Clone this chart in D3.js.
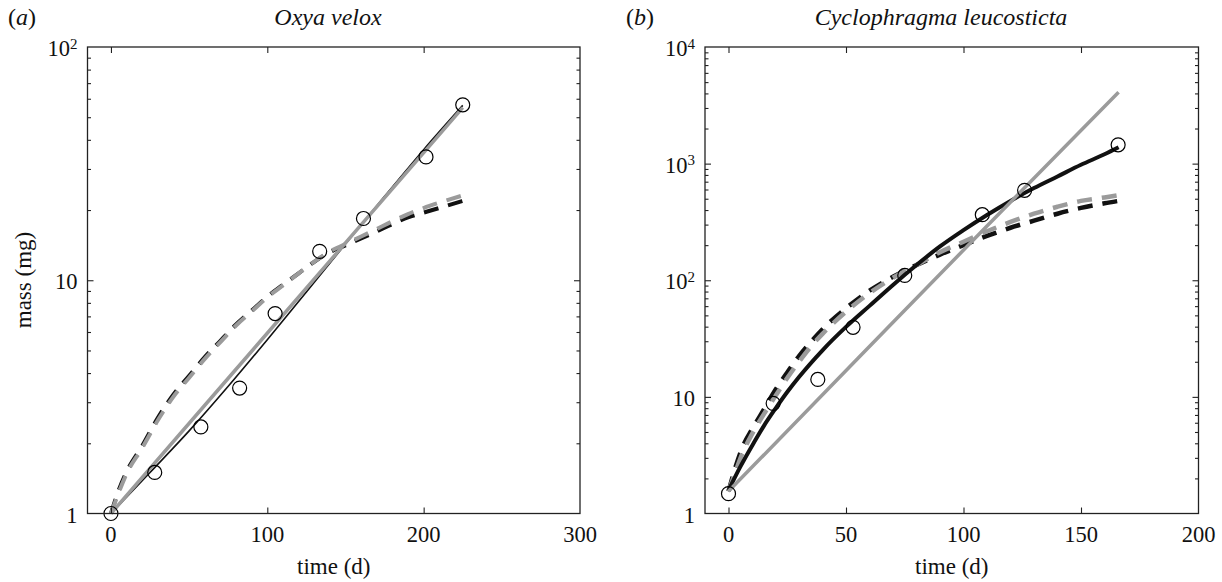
<!DOCTYPE html>
<html>
<head>
<meta charset="utf-8">
<script src="https://cdn.jsdelivr.net/npm/d3@7/dist/d3.min.js"></script>
<style>
  html, body { margin: 0; padding: 0; background: #fff; }
  svg { display: block; }
  svg text { font-family: "Liberation Serif", "Times New Roman", Times, serif; }
</style>
</head>
<body>
<svg id="chart" width="1222" height="582"></svg>
<script>
// ---------- Panel (a): Oxya velox ----------
const aObsTime = [0, 28, 57.5, 82.3, 105, 133.5, 161.5, 201.5, 225];
const aObsMass = [1, 1.5, 2.35, 3.45, 7.2, 13.3, 18.4, 33.8, 56.5];

const aBlackSolidTime = [0, 25, 50, 75, 100, 125, 150, 175, 200, 225];
const aBlackSolidMass = [1, 1.5, 2.26, 3.51, 5.56, 8.91, 14.3, 22.9, 36.3, 56.2];

const aGraySolidTime = [0, 75, 150, 225];
const aGraySolidMass = [1, 3.8, 14.45, 55];

const aDashTime = [0, 5, 10, 20, 30, 40, 50, 60, 70, 80, 90, 100, 110, 120, 130, 140, 150, 160, 170, 180, 190, 200, 210, 225];
const aBlackDashMass = [1, 1.26, 1.51, 1.95, 2.57, 3.24, 3.89, 4.68, 5.5, 6.46, 7.41, 8.51, 9.55, 10.7, 12.0, 13.2, 14.1, 15.1, 16.2, 17.4, 18.6, 19.5, 20.4, 21.9];
const aGrayDashMass = [1, 1.23, 1.48, 1.91, 2.51, 3.17, 3.82, 4.6, 5.43, 6.4, 7.35, 8.45, 9.5, 10.7, 12.0, 13.3, 14.3, 15.4, 16.6, 17.9, 19.2, 20.4, 21.5, 23.1];

const aXTicks = [0, 100, 200, 300];
const aYMajor = [1, 10, 100];
const aYLabels = [["1", ""], ["10", ""], ["10", "2"]];

// ---------- Panel (b): Cyclophragma leucosticta ----------
const bObsTime = [0, 19, 38, 53, 75, 108, 126, 165.8];
const bObsMass = [1.48, 8.8, 14.1, 39.5, 110, 365, 590, 1450];

const bBlackSolidTime = [0, 5, 10, 15, 20, 25, 30, 40, 50, 60, 70, 80, 90, 100, 110, 120, 130, 140, 150, 160, 166];
const bBlackSolidMass = [1.58, 2.51, 3.8, 5.62, 7.94, 11.0, 14.8, 25.1, 39.8, 60.3, 91.2, 135, 195, 269, 363, 479, 617, 776, 977, 1202, 1380];

const bGraySolidTime = [0, 55, 110, 166];
const bGraySolidMass = [1.55, 21.3, 292, 4100];

const bDashTime = [0, 3, 6, 10, 15, 20, 25, 30, 35, 40, 50, 60, 70, 80, 90, 100, 110, 120, 130, 140, 150, 160, 166];
const bBlackDashMass = [1.55, 2.51, 3.72, 5.25, 7.76, 11.5, 16.2, 22.4, 29.5, 38.0, 57.5, 81.3, 107, 135, 166, 200, 240, 282, 324, 372, 417, 457, 479];
const bGrayDashMass = [1.55, 2.29, 3.31, 4.79, 7.08, 10.2, 14.5, 20.0, 26.9, 34.7, 53.7, 77.6, 105, 135, 174, 214, 263, 316, 372, 427, 479, 513, 537];

const bXTicks = [0, 50, 100, 150, 200];
const bYMajor = [1, 10, 100, 1000, 10000];
const bYLabels = [["1", ""], ["10", ""], ["10", "2"], ["10", "3"], ["10", "4"]];

const BLACK = "#111";
const GRAY = "#9b9b9b";
const FONT = "Liberation Serif, Times New Roman, serif";

const svg = d3.select("#chart");

function zip(t, m) { return t.map((v, i) => ({ t: v, m: m[i] })); }

function minorTicks(domain) {
  const out = [];
  const lo = Math.round(Math.log10(domain[0])), hi = Math.round(Math.log10(domain[1]));
  for (let e = lo; e < hi; e++) {
    for (let k = 2; k <= 9; k++) out.push(k * Math.pow(10, e));
  }
  return out;
}

function panel(cfg) {
  const { left, right, top, bottom } = cfg.box;
  const x = d3.scaleLinear().domain(cfg.xDomain).range([left, right]);
  const y = d3.scaleLog().domain(cfg.yDomain).range([bottom, top]);
  const g = svg.append("g").attr("font-family", FONT);

  // lines
  const line = d3.line().x(d => x(d.t)).y(d => y(d.m)).curve(d3.curveMonotoneX);
  cfg.series.forEach(s => {
    g.append("path")
      .datum(zip(s.t, s.m))
      .attr("d", line)
      .attr("fill", "none")
      .attr("stroke", s.color)
      .attr("stroke-width", s.width)
      .attr("stroke-dasharray", s.dash || null)
      .attr("stroke-linecap", "butt");
  });

  // observed points
  g.selectAll("circle.obs")
    .data(zip(cfg.obsT, cfg.obsM))
    .join("circle")
    .attr("class", "obs")
    .attr("cx", d => x(d.t))
    .attr("cy", d => y(d.m))
    .attr("r", 7)
    .attr("fill", "none")
    .attr("stroke", "#000")
    .attr("stroke-width", 1.2);

  // axes ticks (inward)
  const tickStyle = sel => {
    sel.select(".domain").remove();
    sel.selectAll(".tick line").attr("stroke", "#222").attr("stroke-width", 1.1);
  };
  const innerX = cfg.xTicks.filter(v => x(v) > left + 1 && x(v) < right - 1);
  g.append("g").attr("transform", `translate(0,${bottom})`)
    .call(d3.axisBottom(x).tickValues(innerX).tickSizeInner(-6).tickSizeOuter(0).tickFormat(""))
    .call(tickStyle);
  g.append("g").attr("transform", `translate(0,${top})`)
    .call(d3.axisTop(x).tickValues(innerX).tickSizeInner(-6).tickSizeOuter(0).tickFormat(""))
    .call(tickStyle);

  const innerYMajor = cfg.yMajor.filter(v => y(v) > top + 1 && y(v) < bottom - 1);
  const minors = minorTicks(cfg.yDomain);
  [[d3.axisLeft, left], [d3.axisRight, right]].forEach(([ax, pos]) => {
    g.append("g").attr("transform", `translate(${pos},0)`)
      .call(ax(y).tickValues(innerYMajor).tickSizeInner(-6).tickSizeOuter(0).tickFormat(""))
      .call(tickStyle);
    g.append("g").attr("transform", `translate(${pos},0)`)
      .call(ax(y).tickValues(minors).tickSizeInner(-3.5).tickSizeOuter(0).tickFormat(""))
      .call(tickStyle);
  });

  // box
  g.append("rect")
    .attr("x", left).attr("y", top)
    .attr("width", right - left).attr("height", bottom - top)
    .attr("fill", "none").attr("stroke", "#222").attr("stroke-width", 1.3);

  // x tick labels
  g.selectAll("text.xl")
    .data(cfg.xTicks)
    .join("text")
    .attr("class", "xl")
    .attr("x", d => x(d))
    .attr("y", bottom + 28.5)
    .attr("text-anchor", "middle")
    .attr("font-size", 22.5)
    .attr("fill", "#111")
    .text(d => d);

  // y tick labels with superscripts
  const yl = g.selectAll("text.yl")
    .data(cfg.yMajor.map((v, i) => ({ v, base: cfg.yLabels[i][0], sup: cfg.yLabels[i][1] })))
    .join("text")
    .attr("class", "yl")
    .attr("x", left - 10)
    .attr("y", d => y(d.v) + 9)
    .attr("text-anchor", "end")
    .attr("font-size", 22.5)
    .attr("fill", "#111");
  yl.append("tspan").text(d => d.base);
  yl.filter(d => d.sup).append("tspan")
    .attr("font-size", 15).attr("dy", -7.5).text(d => d.sup);

  // x axis label
  g.append("text")
    .attr("x", (left + right) / 2)
    .attr("y", 574)
    .attr("text-anchor", "middle")
    .attr("font-size", 23)
    .attr("fill", "#111")
    .text("time (d)");

  // title
  g.append("text")
    .attr("x", cfg.titleX)
    .attr("y", 25)
    .attr("text-anchor", "middle")
    .attr("font-size", 24)
    .attr("font-style", "italic")
    .attr("fill", "#111")
    .text(cfg.title);

  // panel letter
  const pl = g.append("text")
    .attr("x", cfg.letterX)
    .attr("y", 25)
    .attr("font-size", 24)
    .attr("fill", "#111");
  pl.append("tspan").text("(");
  pl.append("tspan").attr("font-style", "italic").text(cfg.letter);
  pl.append("tspan").text(")");

  return { x, y };
}

panel({
  box: { left: 87.5, right: 580, top: 47, bottom: 513.5 },
  xDomain: [-15, 300],
  yDomain: [1, 100],
  xTicks: aXTicks,
  yMajor: aYMajor,
  yLabels: aYLabels,
  obsT: aObsTime, obsM: aObsMass,
  title: "Oxya velox",
  titleX: 328,
  letter: "a",
  letterX: 8,
  series: [
    { t: aDashTime, m: aBlackDashMass, color: BLACK, width: 4, dash: "15,10" },
    { t: aDashTime, m: aGrayDashMass, color: GRAY, width: 4, dash: "15,10" },
    { t: aBlackSolidTime, m: aBlackSolidMass, color: BLACK, width: 1.6 },
    { t: aGraySolidTime, m: aGraySolidMass, color: GRAY, width: 3.5 }
  ]
});

panel({
  box: { left: 705, right: 1198.5, top: 47, bottom: 513.5 },
  xDomain: [-10, 200],
  yDomain: [1, 10000],
  xTicks: bXTicks,
  yMajor: bYMajor,
  yLabels: bYLabels,
  obsT: bObsTime, obsM: bObsMass,
  title: "Cyclophragma leucosticta",
  titleX: 941,
  letter: "b",
  letterX: 626,
  series: [
    { t: bDashTime, m: bBlackDashMass, color: BLACK, width: 4.5, dash: "15,10" },
    { t: bDashTime, m: bGrayDashMass, color: GRAY, width: 4.5, dash: "15,10" },
    { t: bBlackSolidTime, m: bBlackSolidMass, color: BLACK, width: 4 },
    { t: bGraySolidTime, m: bGraySolidMass, color: GRAY, width: 3.5 }
  ]
});

// y-axis title (panel a only)
svg.append("text")
  .attr("transform", "translate(31,280) rotate(-90)")
  .attr("text-anchor", "middle")
  .attr("font-family", FONT)
  .attr("font-size", 23)
  .attr("fill", "#111")
  .text("mass (mg)");
</script>
</body>
</html>
